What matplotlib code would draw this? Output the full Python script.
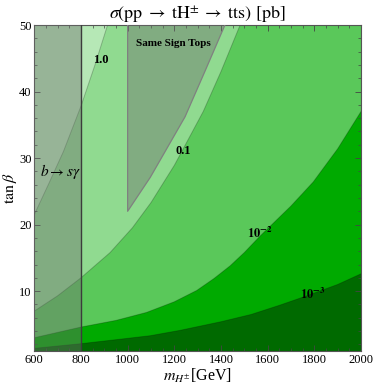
import numpy as np
import matplotlib
matplotlib.use("Agg")
import matplotlib.pyplot as plt
from matplotlib.ticker import MultipleLocator

plt.rcParams['font.family'] = ['Liberation Serif', 'DejaVu Serif']
plt.rcParams['mathtext.fontset'] = 'stix'

# contour curves of sigma [pb] as (m_H, tan beta)
m_1 = [600, 660, 725, 800, 860, 914]
tb_1 = [21.5, 26.0, 31.0, 37.8, 44.0, 50.0]

m_01 = [600, 700, 800, 925, 1020, 1100, 1200, 1324, 1400, 1482]
tb_01 = [7.0, 9.3, 12.0, 15.8, 19.5, 23.3, 28.9, 37.0, 43.0, 50.0]

m_001 = [600, 700, 800, 950, 1081, 1200, 1296, 1370, 1439, 1500, 1568, 1700, 1795, 1900, 2000]
tb_001 = [3.0, 3.8, 4.6, 5.6, 6.8, 8.4, 10.1, 11.9, 13.8, 15.8, 18.3, 22.8, 26.4, 31.4, 37.0]

m_0001 = [600, 800, 950, 1097, 1224, 1400, 1530, 1653, 1760, 1900, 2000]
tb_0001 = [1.4, 2.1, 2.7, 3.3, 4.1, 5.4, 6.5, 7.9, 9.2, 11.0, 12.6]

# excluded regions
bsg_m = [600, 800]
sst_m = [1000, 1000, 1097, 1246, 1332, 1417]
sst_tb = [50.0, 22.0, 27.1, 36.2, 43.1, 50.0]

band_colors = ['#006a00', '#00aa00', '#5ac85a', '#90da90', '#b6e8b6']
labels = ['$\\mathbf{10^{-3}}$', '$\\mathbf{10^{-2}}$', '0.1', '1.0']
label_pos = [(1794, 9.5), (1568, 18.6), (1237, 31.0), (883, 44.8)]

xmin, xmax, ymin, ymax = 600, 2000, 1, 50

fig = plt.figure(figsize=(3.74, 3.86), dpi=100)
ax = fig.add_axes([0.0917, 0.0907, 0.8735, 0.8445])
ax.set_xlim(xmin, xmax)
ax.set_ylim(ymin, ymax)
ax.set_facecolor(band_colors[0])

curves = [(m_0001, tb_0001), (m_001, tb_001), (m_01, tb_01), (m_1, tb_1)]
for (mc, tc), col in zip(curves, band_colors[1:]):
    xs = list(mc)
    ys = list(tc)
    if xs[-1] >= xmax:
        xs += [xmax, xmin]
        ys += [ymax, ymax]
    else:
        xs += [xmin]
        ys += [ymax]
    ax.fill(xs, ys, color=col, lw=0, zorder=1)
    ax.plot(mc, tc, color='#000000', alpha=0.22, lw=0.7, zorder=2)

# b -> s gamma excluded
ax.axvspan(bsg_m[0], bsg_m[1], color='#6e6e6e', alpha=0.42, lw=0, zorder=3)
ax.axvline(bsg_m[1], color='#3c3c3c', lw=1.0, zorder=4)

# same sign tops
ax.fill(sst_m, sst_tb, facecolor='#6e6e6e', alpha=0.42, lw=0, zorder=3)
ax.plot(sst_m, sst_tb, color='#808080', lw=0.9, zorder=4)

for txt, (x, y) in zip(labels, label_pos):
    ax.text(x, y, txt, fontsize=9, fontweight='bold', ha='center', va='center', zorder=5)

ax.text(711, 28, r'$b \rightarrow s\gamma$', fontsize=11, ha='center', va='center', zorder=5)
ax.text(1197, 47.2, 'Same Sign Tops', fontsize=8, fontweight='bold',
        ha='center', va='center', zorder=5)

ax.xaxis.set_major_locator(MultipleLocator(200))
ax.xaxis.set_minor_locator(MultipleLocator(50))
ax.yaxis.set_major_locator(MultipleLocator(10))
ax.yaxis.set_minor_locator(MultipleLocator(2))
ax.tick_params(which='both', direction='in', top=True, right=True,
               colors='#444444', labelcolor='black', labelsize=9, pad=2)
ax.tick_params(which='major', length=4, width=0.6)
ax.tick_params(which='minor', length=2.2, width=0.5)
for s in ax.spines.values():
    s.set_color('#555555')
    s.set_linewidth(0.8)

ax.set_xlabel(r'$m_{H^{\pm}}$[GeV]', fontsize=11.5, labelpad=1)
ax.set_ylabel(r'$\tan\beta$', fontsize=11.5, labelpad=0)
ax.set_title(r'$\sigma(\mathrm{pp}\;\rightarrow\;\mathrm{tH}^{\pm}\;\rightarrow\;\mathrm{tts})\ [\mathrm{pb}]$',
             fontsize=13, pad=3)

fig.savefig('out.png', dpi=100)
